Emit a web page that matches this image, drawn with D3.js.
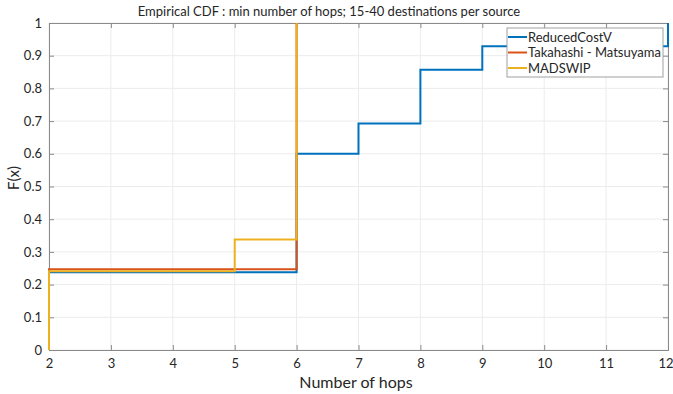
<!DOCTYPE html>
<html>
<head>
<meta charset="utf-8">
<script src="https://cdn.jsdelivr.net/npm/d3@7"></script>
<style>
  html, body { margin: 0; padding: 0; background: #fff; }
  svg { display: block; font-family: Lato, "Open Sans", sans-serif; }
</style>
</head>
<body>
<svg id="chart" width="673" height="394"></svg>
<script>
// Empirical CDF step series: [x, F(x)] pairs, each step holds until the next x
const reducedCostV = [[2, 0], [2, 0.238], [6, 0.6], [7, 0.693], [8, 0.857], [9, 0.929], [12, 1]];
const takahashiMatsuyama = [[2, 0], [2, 0.247], [6, 1]];
const madswip = [[2, 0], [2, 0.241], [5, 0.338], [6, 1]];

const seriesNames = ["ReducedCostV", "Takahashi - Matsuyama", "MADSWIP"];
const seriesColors = ["#0072BD", "#D95319", "#EDB120"];

const xTicks = [2, 3, 4, 5, 6, 7, 8, 9, 10, 11, 12];
const yTicks = [0, 0.1, 0.2, 0.3, 0.4, 0.5, 0.6, 0.7, 0.8, 0.9, 1];

const titleText = "Empirical CDF : min number of hops; 15-40 destinations per source";
const xLabel = "Number of hops";
const yLabel = "F(x)";

const svg = d3.select("#chart");
const m = { left: 49, right: 5, top: 23, bottom: 44 };
const W = 673, H = 394;

const x = d3.scaleLinear().domain([2, 12]).range([m.left, W - m.right]);
const y = d3.scaleLinear().domain([0, 1]).range([H - m.bottom, m.top]);

const axisColor = "#8a8a8a";
const gridColor = "#ececec";
const textColor = "#262626";
const font = "Lato, 'Open Sans', sans-serif";

// grid
const grid = svg.append("g");
grid.selectAll("line.gx").data(xTicks).join("line")
  .attr("x1", d => x(d)).attr("x2", d => x(d))
  .attr("y1", y(0)).attr("y2", y(1))
  .attr("stroke", gridColor).attr("stroke-width", 1);
grid.selectAll("line.gy").data(yTicks).join("line")
  .attr("x1", x(2)).attr("x2", x(12))
  .attr("y1", d => y(d)).attr("y2", d => y(d))
  .attr("stroke", gridColor).attr("stroke-width", 1);

// axes
const xAxis = svg.append("g").attr("transform", `translate(0,${y(0)})`)
  .call(d3.axisBottom(x).tickValues(xTicks).tickSize(-5).tickPadding(9).tickFormat(d3.format("d")));
const xTop = svg.append("g").attr("transform", `translate(0,${y(1)})`)
  .call(d3.axisTop(x).tickValues(xTicks).tickSize(-5).tickFormat(""));
const yAxis = svg.append("g").attr("transform", `translate(${x(2)},0)`)
  .call(d3.axisLeft(y).tickValues(yTicks).tickSize(-5).tickPadding(7)
    .tickFormat(d => d === 0 || d === 1 ? d3.format("d")(d) : d3.format(".1f")(d)));
const yRight = svg.append("g").attr("transform", `translate(${x(12)},0)`)
  .call(d3.axisRight(y).tickValues(yTicks).tickSize(-5).tickFormat(""));

[xAxis, xTop, yAxis, yRight].forEach(g => {
  g.select(".domain").attr("stroke", axisColor).attr("stroke-width", 1);
  g.selectAll(".tick line").attr("stroke", axisColor);
  g.selectAll("text").attr("fill", textColor).attr("font-size", 13).attr("font-family", font);
});
// keep the last x tick label inside the page
xAxis.selectAll(".tick text").filter(d => d === 12).attr("text-anchor", "end").attr("dx", 5);

// step lines
const line = d3.line().x(d => x(d[0])).y(d => y(d[1])).curve(d3.curveStepAfter);
const allSeries = [reducedCostV, takahashiMatsuyama, madswip];
svg.append("g").selectAll("path").data(allSeries).join("path")
  .attr("d", d => line(d))
  .attr("fill", "none")
  .attr("stroke", (d, i) => seriesColors[i])
  .attr("stroke-width", 2);

// title and labels
svg.append("text").attr("x", 329).attr("y", 16)
  .attr("text-anchor", "middle").attr("font-size", 13).attr("fill", textColor)
  .text(titleText);
svg.append("text").attr("x", 356).attr("y", 388)
  .attr("text-anchor", "middle").attr("font-size", 16).attr("fill", textColor)
  .text(xLabel);
svg.append("text").attr("transform", `translate(19,178) rotate(-90)`)
  .attr("text-anchor", "middle").attr("font-size", 15).attr("fill", textColor)
  .text(yLabel);

// legend
const leg = svg.append("g").attr("transform", "translate(507,28)");
leg.append("rect").attr("width", 156).attr("height", 49)
  .attr("fill", "#fff").attr("stroke", "#a0a0a0").attr("stroke-width", 1);
seriesNames.forEach((name, i) => {
  const cy = 9 + i * 15.5;
  leg.append("line").attr("x1", 1).attr("x2", 20).attr("y1", cy).attr("y2", cy)
    .attr("stroke", seriesColors[i]).attr("stroke-width", 2);
  leg.append("text").attr("x", 21).attr("y", cy + 4.5)
    .attr("font-size", 13).attr("fill", textColor).text(name);
});
</script>
</body>
</html>
